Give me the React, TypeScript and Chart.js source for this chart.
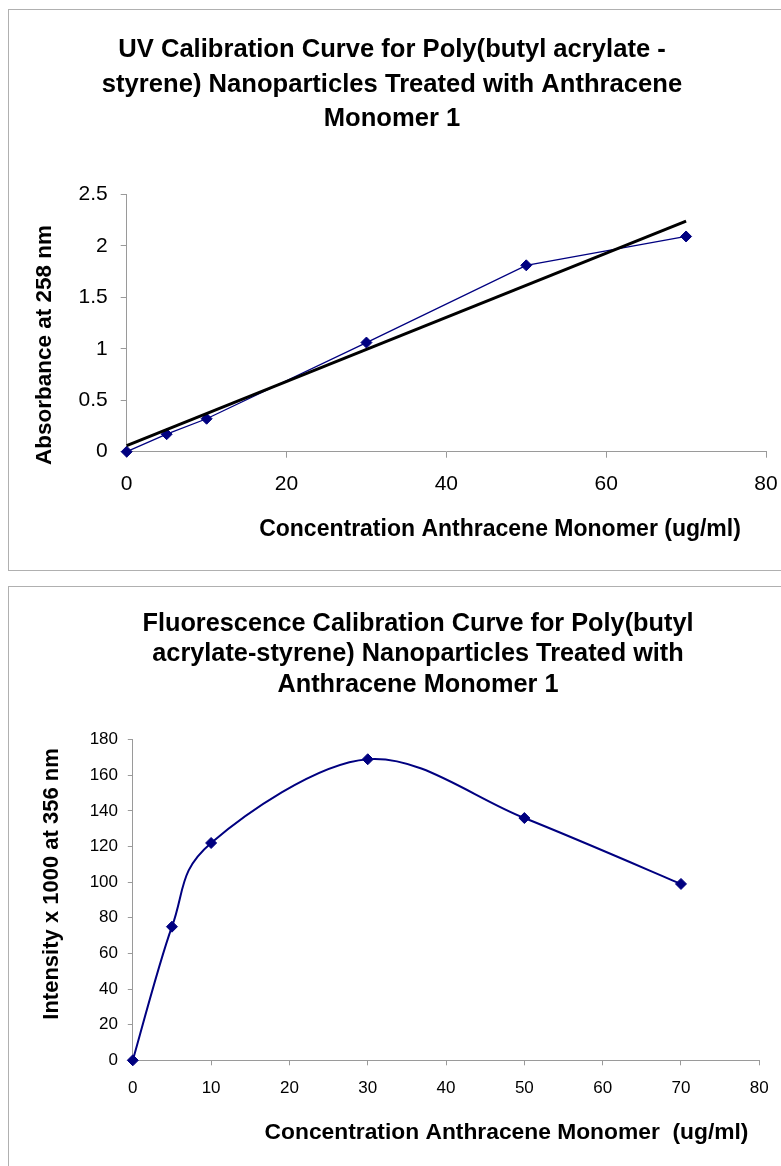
import React, { useEffect, useRef } from 'react';
import { Chart, registerables } from 'chart.js';

Chart.register(...registerables);

const FONT = '"Liberation Sans", Arial, Helvetica, sans-serif';
const NAVY = '#000080';
const AXIS_GRAY = '#9a9a9a';

// ---- Chart 1: UV calibration ----
const uvTitle = [
  'UV Calibration Curve for Poly(butyl acrylate -',
  'styrene) Nanoparticles Treated with Anthracene',
  'Monomer 1',
];
const uvXLabel = 'Concentration Anthracene Monomer (ug/ml)';
const uvYLabel = 'Absorbance at 258 nm';
const uvConcentration = [0, 5, 10, 30, 50, 70];
const uvAbsorbance = [0, 0.17, 0.32, 1.06, 1.81, 2.09];
const uvTrendX = [0, 70];
const uvTrendY = [0.06, 2.24];
const uvXTicks = ['0', '20', '40', '60', '80'];
const uvYTicks = ['0', '0.5', '1', '1.5', '2', '2.5'];

// ---- Chart 2: Fluorescence calibration ----
const flTitle = [
  'Fluorescence Calibration Curve for Poly(butyl',
  'acrylate-styrene) Nanoparticles Treated with',
  'Anthracene Monomer 1',
];
const flXLabel = 'Concentration Anthracene Monomer  (ug/ml)';
const flYLabel = 'Intensity x 1000 at 356 nm';
const flConcentration = [0, 5, 10, 30, 50, 70];
const flIntensity = [0, 75, 122, 169, 136, 99];
const flXTicks = ['0', '10', '20', '30', '40', '50', '60', '70', '80'];
const flYTicks = ['0', '20', '40', '60', '80', '100', '120', '140', '160', '180'];

// Axis titles drawn relative to the chart area
const axisTitlePlugin = {
  id: 'axisTitles',
  afterDraw(chart: any, _args: any, opts: any) {
    const { ctx, chartArea } = chart;
    ctx.save();
    ctx.fillStyle = '#000';
    ctx.textAlign = 'center';
    ctx.textBaseline = 'middle';
    ctx.font = `bold ${opts.xSize}px ${FONT}`;
    ctx.fillText(opts.xText, chartArea.left + opts.xCenter, chartArea.bottom + opts.xOffset);
    ctx.translate(chartArea.left + opts.yOffset, chartArea.top + opts.yCenter);
    ctx.rotate(-Math.PI / 2);
    ctx.font = `bold ${opts.ySize}px ${FONT}`;
    ctx.fillText(opts.yText, 0, 0);
    ctx.restore();
  },
};

// Spreadsheet-style smoothing (Catmull-Rom tangents) on the library's point elements
const smoothPlugin = {
  id: 'spreadsheetSmooth',
  beforeDatasetsDraw(chart: any) {
    chart.data.datasets.forEach((ds: any, di: number) => {
      if (!ds.spreadsheetSmooth) return;
      const meta = chart.getDatasetMeta(di);
      const els = meta.data;
      const n = els.length;
      for (let i = 0; i < n; i++) {
        const p = els[i];
        const prev = els[Math.max(i - 1, 0)];
        const next = els[Math.min(i + 1, n - 1)];
        const dx = (next.x - prev.x) / 6;
        const dy = (next.y - prev.y) / 6;
        p.cp1x = p.x - dx;
        p.cp1y = p.y - dy;
        p.cp2x = p.x + dx;
        p.cp2y = p.y + dy;
      }
      if (meta.dataset) {
        meta.dataset._pointsUpdated = true;
        meta.dataset._path = undefined;
      }
    });
  },
};

function pts(xs: number[], ys: number[]) {
  return xs.map((x, i) => ({ x, y: ys[i] }));
}

function makeUvConfig(): any {
  return {
    type: 'scatter',
    data: {
      datasets: [
        {
          data: pts(uvTrendX, uvTrendY),
          showLine: true,
          borderColor: '#000',
          borderWidth: 3,
          pointRadius: 0,
          order: 0,
          clip: false,
        },
        {
          data: pts(uvConcentration, uvAbsorbance),
          showLine: true,
          borderColor: NAVY,
          borderWidth: 1.3,
          pointStyle: 'rectRot',
          pointRadius: 5.5,
          pointBackgroundColor: NAVY,
          pointBorderColor: NAVY,
          pointBorderWidth: 1,
          order: 1,
          clip: false,
        },
      ],
    },
    options: {
      responsive: false,
      animation: false,
      layout: { padding: { top: 22.65, left: 9, right: 15, bottom: 0 } },
      plugins: {
        legend: { display: false },
        tooltip: { enabled: false },
        title: {
          display: true,
          text: uvTitle,
          color: '#000',
          font: { family: FONT, size: 25.6, weight: 'bold', lineHeight: 1.355 },
          padding: { top: 0, bottom: 57.55 },
        },
        axisTitles: {
          xText: uvXLabel, xSize: 23, xCenter: 373.3, xOffset: 78,
          yText: uvYLabel, ySize: 22.5, yOffset: -82, yCenter: 150.7,
        },
      },
      scales: {
        x: {
          type: 'linear',
          min: 0,
          max: 80,
          ticks: {
            stepSize: 20,
            color: '#000',
            font: { family: FONT, size: 21 },
            padding: 14.4,
            maxRotation: 0,
            callback: (v: number, i: number) => uvXTicks[i] ?? String(v),
          },
          grid: { drawOnChartArea: false, drawTicks: true, tickLength: 6, color: AXIS_GRAY },
          border: { display: true, color: AXIS_GRAY },
          afterFit: (s: any) => { s.height = 118.3; s.paddingLeft = 0; s.paddingRight = 0; },
        },
        y: {
          type: 'linear',
          min: 0,
          max: 2.5,
          ticks: {
            stepSize: 0.5,
            color: '#000',
            font: { family: FONT, size: 21 },
            padding: 13,
            callback: (v: number, i: number) => uvYTicks[i] ?? String(v),
          },
          grid: { drawOnChartArea: false, drawTicks: true, tickLength: 6, color: AXIS_GRAY },
          border: { display: true, color: AXIS_GRAY },
          afterFit: (s: any) => { s.width = 108.7; s.paddingTop = 0; s.paddingBottom = 0; },
        },
      },
    },
    plugins: [axisTitlePlugin],
  };
}

function makeFlConfig(): any {
  return {
    type: 'scatter',
    data: {
      datasets: [
        {
          data: pts(flConcentration, flIntensity),
          showLine: true,
          tension: 0.4,
          spreadsheetSmooth: true,
          borderColor: NAVY,
          borderWidth: 2,
          pointStyle: 'rectRot',
          pointRadius: 5.5,
          pointBackgroundColor: NAVY,
          pointBorderColor: NAVY,
          pointBorderWidth: 1,
          clip: false,
        },
      ],
    },
    options: {
      responsive: false,
      animation: false,
      layout: { padding: { top: 21.75, left: 67.7, right: 21.7, bottom: 0 } },
      plugins: {
        legend: { display: false },
        tooltip: { enabled: false },
        title: {
          display: true,
          text: flTitle,
          color: '#000',
          font: { family: FONT, size: 25.3, weight: 'bold', lineHeight: 1.205 },
          padding: { top: 0, bottom: 39.45 },
        },
        axisTitles: {
          xText: flXLabel, xSize: 22.8, xCenter: 373.7, xOffset: 72.7,
          yText: flYLabel, ySize: 22, yOffset: -80.8, yCenter: 144.3,
        },
      },
      scales: {
        x: {
          type: 'linear',
          min: 0,
          max: 80,
          ticks: {
            stepSize: 10,
            color: '#000',
            font: { family: FONT, size: 17 },
            padding: 12.5,
            maxRotation: 0,
            autoSkip: false,
            callback: (v: number, i: number) => flXTicks[i] ?? String(v),
          },
          grid: { drawOnChartArea: false, drawTicks: true, tickLength: 5, color: AXIS_GRAY },
          border: { display: true, color: AXIS_GRAY },
          afterFit: (s: any) => { s.height = 97.7; s.paddingLeft = 0; s.paddingRight = 0; },
        },
        y: {
          type: 'linear',
          min: 0,
          max: 180,
          ticks: {
            stepSize: 20,
            color: '#000',
            font: { family: FONT, size: 17 },
            padding: 9.8,
            autoSkip: false,
            callback: (v: number, i: number) => flYTicks[i] ?? String(v),
          },
          grid: { drawOnChartArea: false, drawTicks: true, tickLength: 5, color: AXIS_GRAY },
          border: { display: true, color: AXIS_GRAY },
          afterFit: (s: any) => { s.width = 56.1; s.paddingTop = 0; s.paddingBottom = 0; },
        },
      },
    },
    plugins: [smoothPlugin, axisTitlePlugin],
  };
}

function ChartCanvas({ width, height, make }: { width: number; height: number; make: () => any }) {
  const ref = useRef<HTMLCanvasElement | null>(null);
  useEffect(() => {
    if (!ref.current) return;
    const chart = new Chart(ref.current, make());
    return () => chart.destroy();
  }, []);
  return (
    <canvas
      ref={ref}
      width={width}
      height={height}
      style={{ display: 'block', width, height }}
    />
  );
}

export default function App() {
  useEffect(() => {
    document.documentElement.style.overflow = 'hidden';
    document.body.style.margin = '0';
    document.body.style.overflow = 'hidden';
  }, []);
  const boxBorder = '1px solid #b0b0b0';
  return (
    <div style={{ position: 'relative', width: 781, height: 1166, background: '#fff', overflow: 'hidden' }}>
      <div
        style={{
          position: 'absolute', left: 8, top: 9, width: 773, height: 562,
          boxSizing: 'border-box', borderLeft: boxBorder, borderTop: boxBorder, borderBottom: boxBorder,
        }}
      >
        <ChartCanvas width={772} height={560} make={makeUvConfig} />
      </div>
      <div
        style={{
          position: 'absolute', left: 8, top: 586, width: 773, height: 580,
          boxSizing: 'border-box', borderLeft: boxBorder, borderTop: boxBorder,
        }}
      >
        <ChartCanvas width={772} height={571} make={makeFlConfig} />
      </div>
    </div>
  );
}
